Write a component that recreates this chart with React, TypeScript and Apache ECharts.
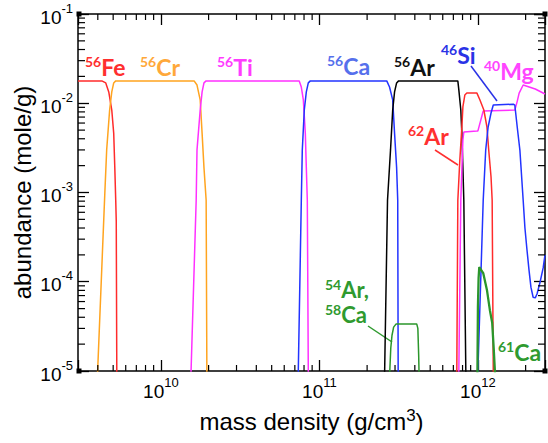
import { useEffect, useRef } from "react";
import * as echarts from "echarts";

// Abundance (mole/g) of the dominant nuclei versus mass density (g/cm^3).
const fe56: [number, number][] = [
  [3e9, 0.0178], [4.24e9, 0.0178], [4.49e9, 0.0169], [4.69e9, 0.0134], [4.9e9, 0.0084],
  [5.04e9, 0.0046], [5.12e9, 0.0019], [5.19e9, 8.2e-4], [5.23e9, 4.7e-4], [5.27e9, 1e-5], [5.28e9, 5e-6],
];
const cr56: [number, number][] = [
  [3.95e9, 6e-6], [3.99e9, 1e-5], [4.43e9, 9.9e-4], [4.55e9, 0.003], [4.75e9, 0.0084], [4.9e9, 0.0134],
  [5.04e9, 0.0169], [5.19e9, 0.0178], [1.62e10, 0.0178], [1.69e10, 0.016], [1.77e10, 0.0109],
  [1.82e10, 0.0046], [1.87e10, 0.0019], [1.93e10, 8.2e-4], [1.95e10, 1e-5], [1.96e10, 5e-6],
];
const ti56: [number, number][] = [
  [1.53e10, 6e-6], [1.55e10, 1e-5], [1.67e10, 8.2e-4], [1.69e10, 0.003], [1.77e10, 0.0084], [1.82e10, 0.0134],
  [1.87e10, 0.0169], [1.93e10, 0.0178], [7.46e10, 0.0178], [7.69e10, 0.0152], [7.92e10, 0.0109],
  [8.15e10, 0.0046], [8.27e10, 0.0019], [8.39e10, 8.2e-4], [8.51e10, 1e-5], [8.55e10, 5e-6],
];
const ca56: [number, number][] = [
  [7.3e10, 6e-6], [7.36e10, 1e-5], [7.69e10, 8.2e-4], [7.8e10, 0.003], [8.03e10, 0.0084], [8.27e10, 0.0134],
  [8.51e10, 0.0169], [8.77e10, 0.0178], [2.66e11, 0.0178], [2.77e11, 0.0152], [2.9e11, 0.0109],
  [2.98e11, 0.0046], [3.07e11, 0.0019], [3.12e11, 8.2e-4], [3.14e11, 1e-5], [3.15e11, 5e-6],
];
const ar56: [number, number][] = [
  [2.55e11, 6e-6], [2.58e11, 1e-5], [2.69e11, 8.2e-4], [2.81e11, 0.003], [2.9e11, 0.0084], [2.98e11, 0.0134],
  [3.07e11, 0.0169], [3.16e11, 0.0178], [7.47e11, 0.0178], [7.58e11, 0.0141], [7.8e11, 0.0084],
  [7.92e11, 0.0046], [8.04e11, 0.0019], [8.15e11, 8.2e-4], [8.39e11, 1e-5], [8.45e11, 5e-6],
];
const ar54ca58: [number, number][] = [
  [2.76e11, 5e-6], [2.78e11, 1e-5], [2.82e11, 1.8e-5], [2.87e11, 2.5e-5], [2.94e11, 3.1e-5], [3.05e11, 3.37e-5],
  [4.11e11, 3.37e-5], [4.18e11, 3.0e-5], [4.23e11, 1.5e-5], [4.25e11, 1e-5], [4.26e11, 5e-6],
];
const ar62: [number, number][] = [
  [7.33e11, 5e-6], [7.36e11, 1e-5], [7.47e11, 8.2e-4], [7.69e11, 0.00231], [7.92e11, 0.00542], [8.04e11, 0.00908],
  [8.27e11, 0.01237], [8.51e11, 0.013], [9.86e11, 0.013], [1.03e12, 0.01086], [1.09e12, 0.0084],
  [1.14e12, 0.00542], [1.17e12, 0.00299], [1.21e12, 0.00149], [1.23e12, 8.2e-4], [1.25e12, 1e-5], [1.26e12, 5e-6],
];
const mg40: [number, number][] = [
  [7.55e11, 5e-6], [7.58e11, 1e-5], [7.8e11, 8.2e-4], [8.04e11, 0.0039], [8.15e11, 0.00476], [9.86e11, 0.00488],
  [1.0e12, 0.0049], [1.08e12, 0.00818], [1.71e12, 0.0084], [1.77e12, 0.0105], [1.82e12, 0.013],
  [1.93e12, 0.016], [2.3e12, 0.01445], [2.65e12, 0.0127],
];
const si46: [number, number][] = [
  [9.95e11, 5e-6], [1.0e12, 1e-5], [1.08e12, 8.2e-4], [1.12e12, 0.00299], [1.16e12, 0.00542], [1.21e12, 0.00778],
  [1.25e12, 0.00955], [1.67e12, 0.00977], [1.71e12, 0.0095], [1.77e12, 0.00542], [1.84e12, 0.00299],
  [1.93e12, 8.2e-4], [1.98e12, 4.0e-4], [2.04e12, 2.27e-4], [2.1e12, 1.36e-4], [2.16e12, 8.7e-5],
  [2.23e12, 6.7e-5], [2.3e12, 6.6e-5], [2.36e12, 7.3e-5], [2.47e12, 1.0e-4], [2.58e12, 1.43e-4], [2.65e12, 2.0e-4],
];
const ca61: [number, number][] = [
  [9.9e11, 5e-6], [9.93e11, 1e-5], [1.0e12, 5.2e-5], [1.01e12, 1.1e-4], [1.02e12, 1.46e-4], [1.05e12, 1.35e-4],
  [1.08e12, 1.25e-4], [1.14e12, 8.1e-5], [1.19e12, 4.8e-5], [1.23e12, 3.5e-5], [1.26e12, 1.7e-5],
  [1.28e12, 1e-5], [1.29e12, 5e-6],
];

const X_MIN = 3e9;
const X_MAX = 2.65e12;
const Y_MIN = 1e-5;
const Y_MAX = 1e-1;
const MINOR_FACTORS = [2, 3, 4, 5, 6, 7, 8, 9];
const X_DECADES = [9, 10, 11, 12];
const Y_DECADES = [-5, -4, -3, -2];

const FONT = "Liberation Sans";
const TAG_FONT = "Lato";

function minorValues(decades: number[], lo: number, hi: number): number[] {
  const out: number[] = [];
  for (const d of decades) {
    for (const f of MINOR_FACTORS) {
      const v = f * Math.pow(10, d);
      if (v > lo * 1.001 && v < hi * 0.999) out.push(v);
    }
  }
  return out;
}

function powerLabel(v: number): string {
  const e = Math.log10(v);
  const r = Math.round(e);
  if (Math.abs(e - r) > 1e-6) return "";
  return `{b|10}{s|${r}}`;
}

function tagRich(color: string, size: number, lh: number) {
  return {
    s: { fontSize: 14, lineHeight: 14, fontWeight: "bold", fontFamily: TAG_FONT, fill: color, padding: [0, 0, 11, 0] },
    m: { fontSize: size, lineHeight: lh, fontWeight: "bold", fontFamily: TAG_FONT, fill: color },
  };
}

// Nuclide label: mass number as a superscript before the element symbol.
function tag(lines: [string, string][], color: string, x: number, y: number, size = 23, lh = 23) {
  return {
    type: "text",
    x,
    y,
    silent: true,
    style: {
      text: lines.map(([mass, sym]) => `{s|${mass}}{m|${sym}}`).join("\n"),
      align: "left",
      verticalAlign: "middle",
      rich: tagRich(color, size, lh),
    },
  };
}

function pointer(x1: number, y1: number, x2: number, y2: number, color: string) {
  return { type: "line", silent: true, shape: { x1, y1, x2, y2 }, style: { stroke: color, lineWidth: 1.5 } };
}

function corner(cx: number, cy: number) {
  return { type: "rect", silent: true, shape: { x: cx - 2.5, y: cy - 2.5, width: 5, height: 5 }, style: { fill: "#000" } };
}

const RED = "#ff2b2b";
const ORANGE = "#ffa41f";
const MAGENTA = "#ff30ff";
const BLUE = "#2233ff";
const GREEN = "#2b962b";

function line(name: string, data: [number, number][], color: string, width = 1.5) {
  return {
    name,
    type: "line",
    data,
    showSymbol: false,
    symbol: "none",
    clip: true,
    silent: true,
    lineStyle: { color, width },
    z: 3,
  };
}

export default function App() {
  const ref = useRef<HTMLDivElement>(null);

  useEffect(() => {
    if (!ref.current) return;
    const chart = echarts.init(ref.current, null, { renderer: "svg" });

    const axisLine = { show: true, lineStyle: { color: "#000", width: 1.5 } };
    const majorTick = { show: true, inside: true, length: 11, lineStyle: { color: "#000", width: 1.3 } };
    const tickRich = {
      b: { fontSize: 19, fontFamily: FONT, color: "#000" },
      s: { fontSize: 13, fontFamily: FONT, color: "#000", padding: [0, 0, 18, 0] },
    };
    const yTickRich = {
      b: { fontSize: 19, fontFamily: FONT, color: "#000", padding: [6, 0, 0, 0] },
      s: { fontSize: 13, fontFamily: FONT, color: "#000", padding: [0, 0, 12, 0] },
    };

    const xMinor = minorValues(X_DECADES, X_MIN, X_MAX).map((v) => [v, Y_MIN]);
    const yMinor = minorValues(Y_DECADES, Y_MIN, Y_MAX).map((v) => [X_MIN, v]);

    chart.setOption({
      animation: false,
      backgroundColor: "#fff",
      grid: { left: 78, right: 3, top: 14, bottom: 72, containLabel: false, outerBoundsMode: "none" },
      xAxis: [
        {
          type: "log",
          logBase: 10,
          min: X_MIN,
          max: X_MAX,
          position: "bottom",
          axisLine,
          axisTick: majorTick,
          splitLine: { show: false },
          axisLabel: { show: true, margin: 5, formatter: powerLabel, rich: tickRich },
          name: "{m|mass density (g/cm}{s|3}{m|)}",
          nameLocation: "middle",
          nameGap: 26,
          nameMoveOverlap: false,
          nameTextStyle: {
            fontSize: 24,
            fontFamily: FONT,
            color: "#000",
            rich: {
              m: { fontSize: 24, fontFamily: FONT, color: "#000", padding: [12, 0, 0, 0] },
              s: { fontSize: 17, fontFamily: FONT, color: "#000" },
            },
          },
        },
        {
          type: "log",
          logBase: 10,
          min: X_MIN,
          max: X_MAX,
          position: "top",
          axisLine,
          axisTick: majorTick,
          splitLine: { show: false },
          axisLabel: { show: false },
        },
      ],
      yAxis: [
        {
          type: "log",
          logBase: 10,
          min: Y_MIN,
          max: Y_MAX,
          position: "left",
          axisLine,
          axisTick: majorTick,
          splitLine: { show: false },
          axisLabel: { show: true, margin: 5, formatter: powerLabel, rich: yTickRich },
          name: "abundance (mole/g)",
          nameLocation: "middle",
          nameRotate: 90,
          nameGap: 44,
          nameMoveOverlap: false,
          nameTextStyle: { fontSize: 24, fontFamily: FONT, color: "#000" },
        },
        {
          type: "log",
          logBase: 10,
          min: Y_MIN,
          max: Y_MAX,
          position: "right",
          axisLine,
          axisTick: majorTick,
          splitLine: { show: false },
          axisLabel: { show: false },
        },
      ],
      series: [
        line("56Fe", fe56, RED),
        line("56Cr", cr56, ORANGE),
        line("56Ti", ti56, MAGENTA),
        line("56Ca", ca56, BLUE),
        line("56Ar", ar56, "#000"),
        line("54Ar, 58Ca", ar54ca58, GREEN),
        line("40Mg", mg40, MAGENTA),
        line("62Ar", ar62, RED),
        line("46Si", si46, BLUE),
        line("61Ca", ca61, GREEN, 2.3),
        {
          type: "custom",
          silent: true,
          clip: false,
          z: 5,
          data: xMinor,
          renderItem: (_p: any, api: any) => {
            const v = api.value(0);
            const b = api.coord([v, Y_MIN]);
            const t = api.coord([v, Y_MAX]);
            const st = { stroke: "#000", lineWidth: 1.2 };
            return {
              type: "group",
              children: [
                { type: "line", shape: { x1: b[0], y1: b[1], x2: b[0], y2: b[1] - 6 }, style: st },
                { type: "line", shape: { x1: t[0], y1: t[1], x2: t[0], y2: t[1] + 6 }, style: st },
              ],
            };
          },
        },
        {
          type: "custom",
          silent: true,
          clip: false,
          z: 5,
          data: yMinor,
          renderItem: (_p: any, api: any) => {
            const v = api.value(1);
            const l = api.coord([X_MIN, v]);
            const r = api.coord([X_MAX, v]);
            const st = { stroke: "#000", lineWidth: 1.2 };
            return {
              type: "group",
              children: [
                { type: "line", shape: { x1: l[0], y1: l[1], x2: l[0] + 7, y2: l[1] }, style: st },
                { type: "line", shape: { x1: r[0], y1: r[1], x2: r[0] - 7, y2: r[1] }, style: st },
              ],
            };
          },
        },
      ],
      graphic: [
        tag([["56", "Fe"]], "#ff2f2f", 85, 67),
        tag([["56", "Cr"]], "#ffa83a", 140, 67),
        tag([["56", "Ti"]], "#ff3cff", 217, 67),
        tag([["56", "Ca"]], "#5670ec", 327, 66),
        tag([["56", "Ar"]], "#111", 394, 67),
        tag([["46", "Si"]], "#2a32e6", 441, 55),
        tag([["40", "Mg"]], "#ff45ff", 484, 71),
        tag([["62", "Ar"]], "#ff3030", 408, 136),
        tag([["54", "Ar,"], ["58", "Ca"]], "#2f9a2f", 325, 302, 22, 25),
        tag([["61", "Ca"]], "#2f9a2f", 498, 352),
        pointer(471, 66, 497, 101, "#2a32e6"),
        pointer(435, 150, 458, 165, "#ff3030"),
        pointer(368, 326, 392, 342, "#2f9a2f"),
        corner(79, 14),
        corner(79, 371),
        corner(545, 371),
        corner(545, 14),
      ],
    });

    return () => chart.dispose();
  }, []);

  return (
    <div
      ref={ref}
      style={{ position: "fixed", left: 0, top: 0, width: 548, height: 443, background: "#fff" }}
    />
  );
}
